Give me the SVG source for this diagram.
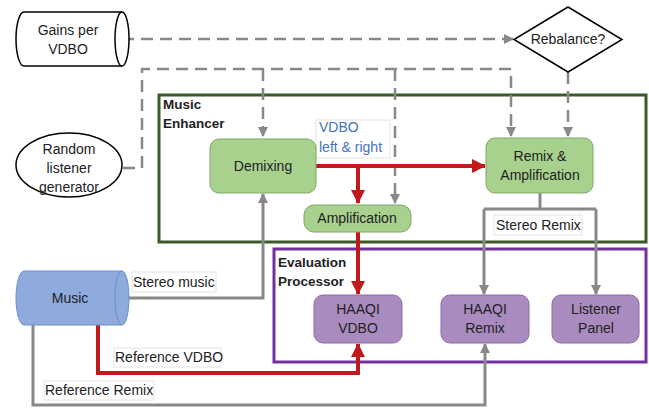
<svg xmlns="http://www.w3.org/2000/svg" width="649" height="408" viewBox="0 0 649 408">
<style>
text{font-family:"Liberation Sans",Arial,sans-serif;font-size:14px;fill:#222}
.c{text-anchor:middle}
.b{font-weight:bold;font-size:13.5px}
.g{fill:#a9d18e;stroke:#7fa866;stroke-width:1}
.p{fill:#a98bc0;stroke:#8a6aa6;stroke-width:1}
.gl{fill:none;stroke:#888;stroke-width:3}
.dl{fill:none;stroke:#888;stroke-width:2.5;stroke-dasharray:12,7}
.rl{fill:none;stroke:#c0191c;stroke-width:4}
.lab{fill:#fff;stroke:#e4e4e4;stroke-width:1}
</style>
<defs>
<marker id="ag" markerWidth="10" markerHeight="10" refX="9" refY="5" orient="auto" markerUnits="userSpaceOnUse"><path d="M0,0 L10,5 L0,10 Z" fill="#888"/></marker>
<marker id="ar" markerWidth="14" markerHeight="14" refX="13" refY="7" orient="auto" markerUnits="userSpaceOnUse"><path d="M0,0 L14,7 L0,14 Z" fill="#c0191c"/></marker>
</defs>
<g id="music-enhancer"><rect x="159" y="95" width="487" height="147" fill="none" stroke="#3b5a2a" stroke-width="3"/><text x="163" y="109" class="b">Music</text><text x="163" y="128" class="b">Enhancer</text></g>
<g id="evaluation-processor"><rect x="274" y="249" width="372" height="113" fill="none" stroke="#7030a0" stroke-width="3"/><text x="278" y="267" class="b">Evaluation</text><text x="278" y="286" class="b">Processor</text></g>
<g id="connectors">
<path class="dl" d="M122,39 H513" marker-end="url(#ag)"/>
<path class="dl" d="M568,72 V136" marker-end="url(#ag)"/>
<path class="dl" d="M123,168 H142 V69 H511 V136" marker-end="url(#ag)"/>
<path class="dl" d="M263,69 V136" marker-end="url(#ag)"/>
<path class="dl" d="M395,69 V203" marker-end="url(#ag)"/>
<path class="rl" d="M316,166 H485" marker-end="url(#ar)"/>
<path class="rl" d="M358,166 V203" marker-end="url(#ar)"/>
<path class="rl" d="M358,232 V294" marker-end="url(#ar)"/>
<path class="gl" d="M540,193 V209"/>
<path class="gl" d="M484,209 H596"/>
<path class="gl" d="M484,209 V294" marker-end="url(#ag)"/>
<path class="gl" d="M596,209 V294" marker-end="url(#ag)"/>
<path class="gl" d="M129,298 H263 V194" marker-end="url(#ag)"/>
<path class="rl" d="M98,325 V373 H358 V344" marker-end="url(#ar)"/>
<path class="gl" d="M33,325 V405 H485 V344" marker-end="url(#ag)"/>
</g>
<g id="vdbo-label"><rect class="lab" x="316" y="120" width="74" height="38"/><text x="319" y="132" style="fill:#4472c4">VDBO</text><text x="319" y="152" style="fill:#4472c4">left &amp; right</text></g>
<g id="stereo-remix-label"><rect class="lab" x="494" y="215" width="88" height="20"/><text x="496" y="230">Stereo Remix</text></g>
<g id="stereo-music-label"><rect class="lab" x="132" y="272" width="84" height="20"/><text x="133" y="287">Stereo music</text></g>
<g id="ref-vdbo-label"><rect class="lab" x="114" y="348" width="107" height="19"/><text x="115" y="362">Reference VDBO</text></g>
<g id="ref-remix-label"><rect class="lab" x="44" y="381" width="110" height="19"/><text x="45" y="395">Reference Remix</text></g>
<g id="gains"><path d="M24,12 H122 A7,27 0 0 1 122,66 H24 A8,27 0 0 1 24,12 Z" fill="#fff" stroke="#000" stroke-width="1.5"/><path d="M122,12 A7,27 0 0 0 122,66" fill="none" stroke="#000" stroke-width="1.5"/><text x="68" y="35" class="c">Gains per</text><text x="68" y="54" class="c">VDBO</text></g>
<g id="rebalance"><path d="M568,7 L622,39.5 L568,72 L514,39.5 Z" fill="#fff" stroke="#000" stroke-width="1.5"/><text x="568" y="44" class="c">Rebalance?</text></g>
<g id="listener-generator"><ellipse cx="69" cy="165" rx="53" ry="32" fill="#fff" stroke="#000" stroke-width="1.5"/><text x="69" y="154" class="c">Random</text><text x="69" y="173" class="c">listener</text><text x="69" y="192" class="c">generator</text></g>
<g id="demixing"><rect class="g" x="210" y="139" width="106" height="54" rx="9"/><text x="263" y="171" class="c">Demixing</text></g>
<g id="remix-amp"><rect class="g" x="486" y="138" width="107" height="55" rx="9"/><text x="540" y="161" class="c">Remix &amp;</text><text x="540" y="180" class="c">Amplification</text></g>
<g id="amplification"><rect class="g" x="304" y="205" width="107" height="27" rx="10"/><text x="357" y="223" class="c">Amplification</text></g>
<g id="music"><path d="M24,271 H122 A7,27 0 0 1 122,325 H24 A8,27 0 0 1 24,271 Z" fill="#8faadc" stroke="#6f8fc9" stroke-width="1"/><path d="M122,271 A7,27 0 0 0 122,325" fill="none" stroke="#6f8fc9" stroke-width="1"/><text x="70" y="303" class="c">Music</text></g>
<g id="haaqi-vdbo"><rect class="p" x="314" y="295" width="88" height="48" rx="9"/><text x="358" y="314" class="c">HAAQI</text><text x="358" y="333" class="c">VDBO</text></g>
<g id="haaqi-remix"><rect class="p" x="441" y="295" width="88" height="48" rx="9"/><text x="485" y="314" class="c">HAAQI</text><text x="485" y="333" class="c">Remix</text></g>
<g id="listener-panel"><rect class="p" x="552" y="295" width="87" height="48" rx="9"/><text x="596" y="314" class="c">Listener</text><text x="596" y="333" class="c">Panel</text></g>
</svg>
